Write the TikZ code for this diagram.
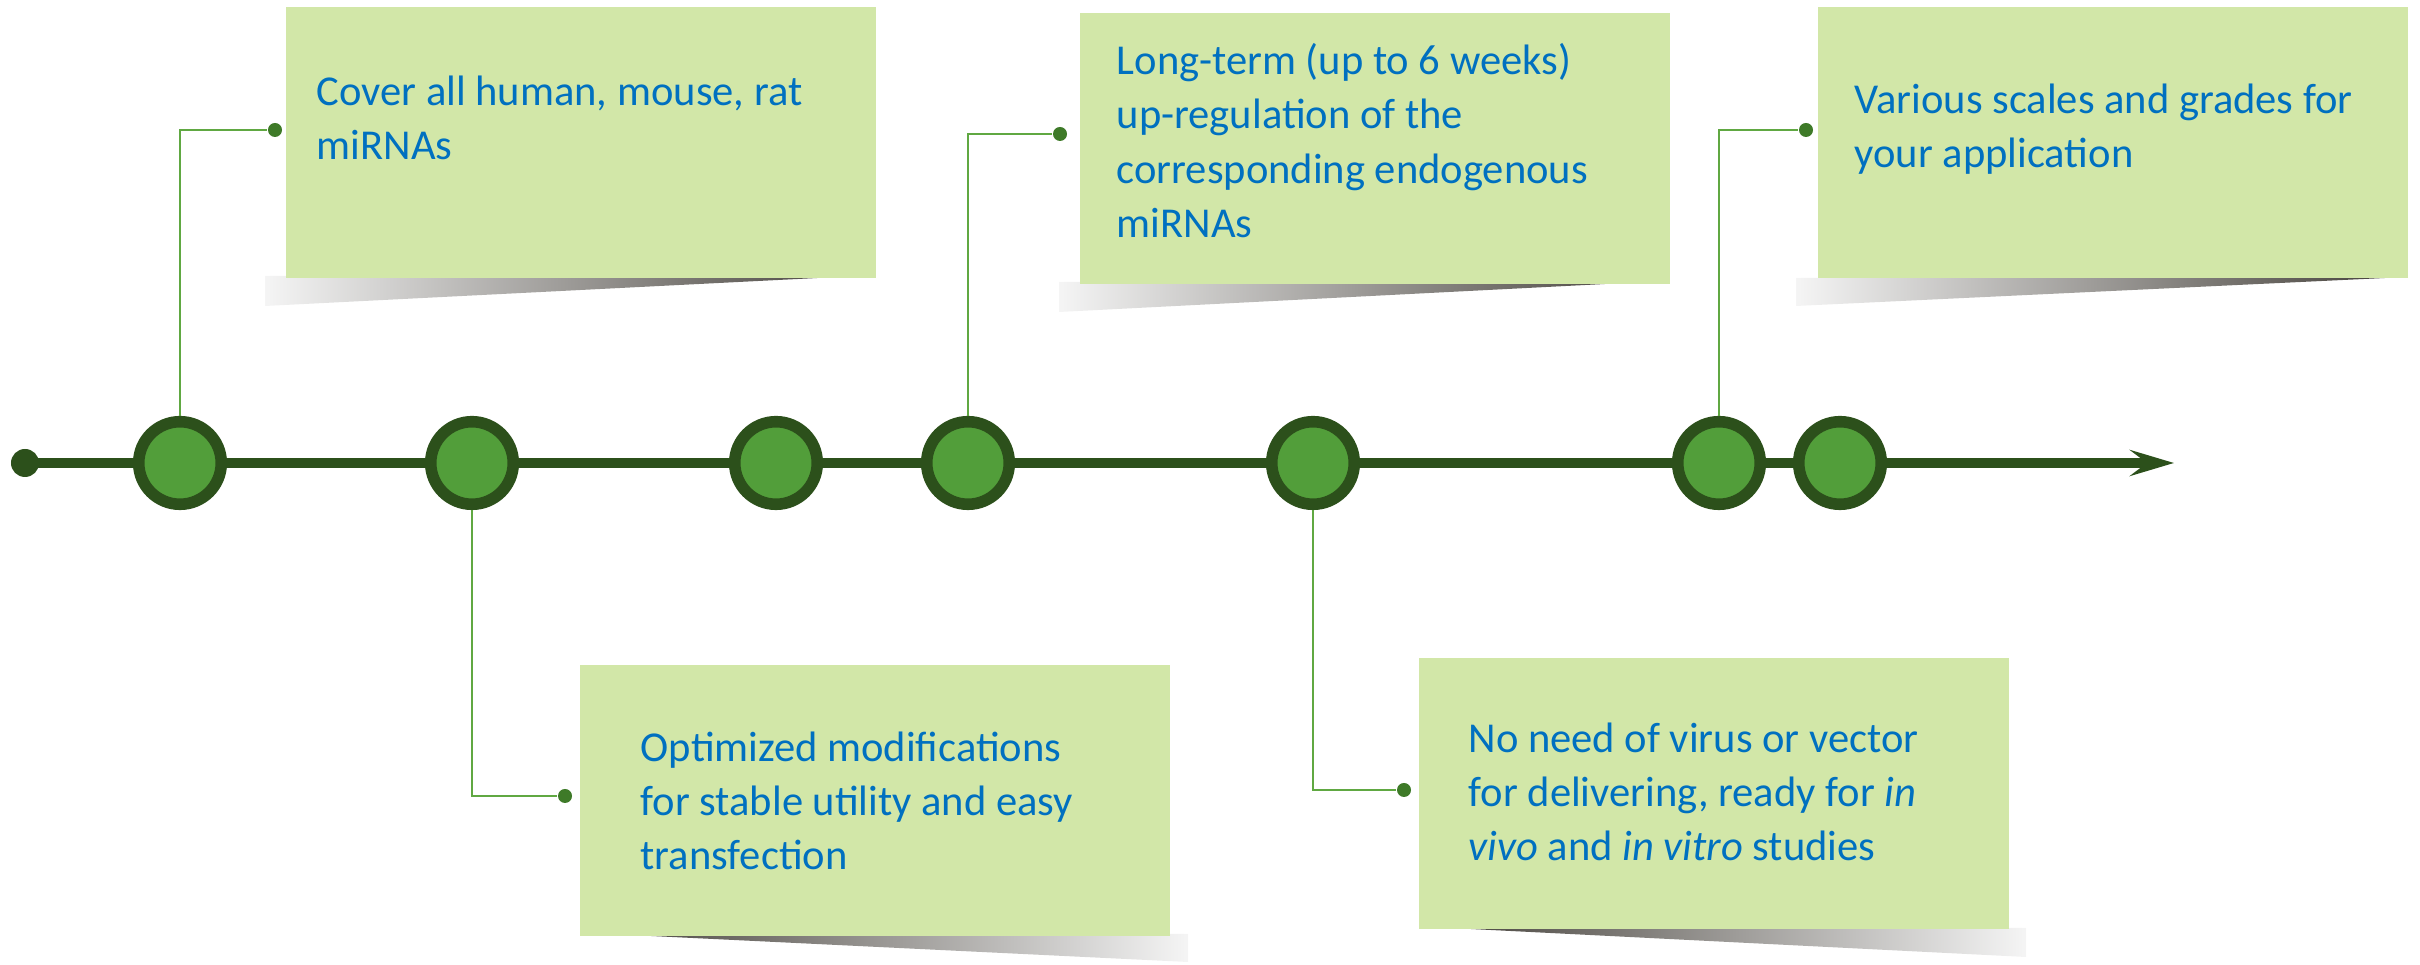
\documentclass[tikz,border=0pt]{standalone}
\usepackage{fontspec}
\setmainfont{Carlito}
\usetikzlibrary{arrows.meta}

\definecolor{notegreen}{RGB}{210,231,168}
\definecolor{ringgreen}{RGB}{44,80,27}
\definecolor{dotgreen}{RGB}{82,158,58}
\definecolor{leadgreen}{RGB}{96,168,66}
\definecolor{pingreen}{RGB}{62,122,40}
\definecolor{noteblue}{RGB}{0,112,192}
\definecolor{shadowdark}{RGB}{72,68,62}

\tikzset{
  note/.style={fill=notegreen, minimum width=5.9cm, minimum height=2.71cm, anchor=north west, inner sep=0},
  notetext/.style={anchor=north west, inner sep=0, align=left, text=noteblue, font=\fontsize{12.1}{15.4}\selectfont},
  event/.style={circle, draw=ringgreen, fill=dotgreen, line width=3.3pt, minimum size=0.825cm, inner sep=0},
  pin/.style={circle, fill=pingreen, minimum size=0.14cm, inner sep=0},
  lead/.style={draw=leadgreen, line width=0.6pt},
  timeline/.style={draw=ringgreen, line width=2.6pt, -{Stealth[length=0.44cm, width=0.26cm, inset=0.17cm]}},
  shadowr/.style={left color=gray!8, middle color=black!55, right color=shadowdark},
  shadowl/.style={left color=shadowdark, middle color=black!55, right color=gray!8},
}

\begin{document}
\begin{tikzpicture}[x=0.01cm, y=-0.01cm]
\useasboundingbox (0,0) rectangle (2420,965);

% shadows under the notes
\shade[shadowr] (265,276) -- (857,276) -- (265,306) -- cycle;
\shade[shadowr] (1059,282) -- (1644,282) -- (1059,312) -- cycle;
\shade[shadowr] (1796,278) -- (2385,278) -- (1796,306) -- cycle;
\shade[shadowl] (610,934) -- (1188,934) -- (1188,962) -- cycle;
\shade[shadowl] (1451,928) -- (2026,928) -- (2026,957) -- cycle;

% notes
\node[note] (n1) at (285,6) {};
\node[note] (n2) at (1079,12) {};
\node[note] (n3) at (1817,6) {};
\node[note] (n4) at (579,664) {};
\node[note] (n5) at (1418,657) {};

% time line
\node[circle, fill=ringgreen, minimum size=0.28cm, inner sep=0] (start) at (25,463) {};
\coordinate (tip) at (2174,463);
\draw[timeline] (start.center) -- (tip);

\foreach \x/\n in {180/1, 472/2, 776/3, 968/4, 1313/5, 1719/6, 1840/7}
  \node[event] (e\n) at (\x,463) {};

% leads to the notes
\node[pin] (p1) at (275,130) {};
\node[pin] (p2) at (565,796) {};
\node[pin] (p4) at (1060,134) {};
\node[pin] (p5) at (1404,790) {};
\node[pin] (p6) at (1806,130) {};
\draw[lead] (e1.north) |- (p1);
\draw[lead] (e2.south) |- (p2);
\draw[lead] (e4.north) |- (p4);
\draw[lead] (e5.south) |- (p5);
\draw[lead] (e6.north) |- (p6);

% texts
\node[notetext] (t1) at (316,75) {Cover all human, mouse, rat\\miRNAs};
\node[notetext] (t2) at (1116,43) {Long-term (up to 6 weeks)\\up-regulation of the\\corresponding endogenous\\miRNAs};
\node[notetext] (t3) at (1854,83) {Various scales and grades for\\your application};
\node[notetext] (t4) at (640,731) {Optimized modifications\\for stable utility and easy\\transfection};
\node[notetext] (t5) at (1468,722) {No need of virus or vector\\for delivering, ready for \textit{in}\\\textit{vivo} and \textit{in vitro} studies};
\end{tikzpicture}
\end{document}
